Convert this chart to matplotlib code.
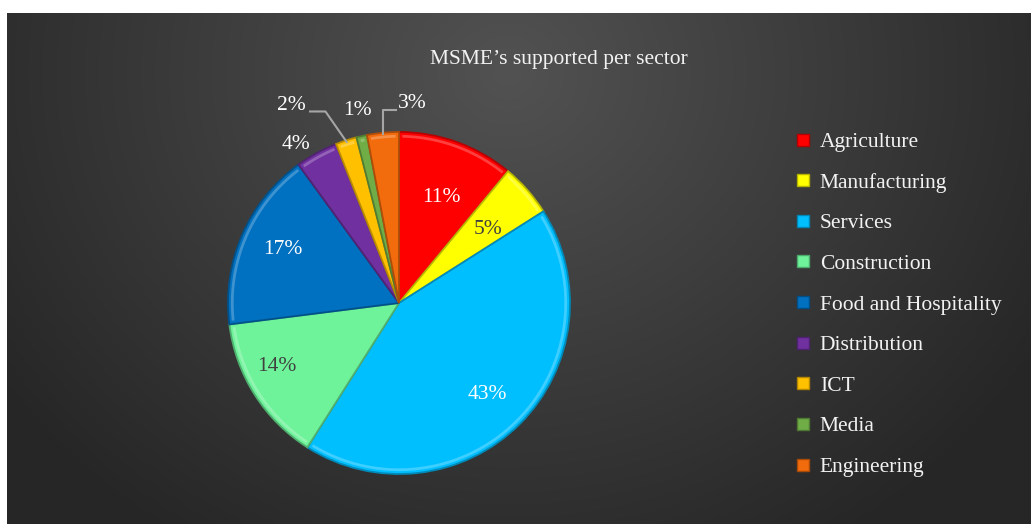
import numpy as np
import matplotlib.pyplot as plt
from matplotlib.lines import Line2D
from matplotlib.colors import to_rgb

plt.rcParams['font.family'] = ['Liberation Serif', 'DejaVu Serif']

sectors = ["Agriculture", "Manufacturing", "Services", "Construction",
           "Food and Hospitality", "Distribution", "ICT", "Media", "Engineering"]
shares = [11, 5, 43, 14, 17, 4, 2, 1, 3]
colors = ["#ff0000", "#ffff00", "#00bfff", "#6ef39a", "#0070c0",
          "#7030a0", "#ffc000", "#70ad47", "#f26b0c"]
label_colors = ["white", "#404040", "white", "#404040", "white",
                "white", "white", "white", "white"]
# inside labels: radius and angle nudge (deg) from slice middle
label_r = [0.678, 0.684, 0.732, 0.798, 0.753]
label_dang = [-1.5, -0.9, -0.3, -5.8, -2.4]
# small slices get their labels outside the pie (axes data coords)
outside_pos = {5: (-0.60, 0.94), 6: (-0.63, 1.17), 7: (-0.24, 1.14), 8: (0.08, 1.18)}
leader = {6, 8}

W, H = 1031, 524
FS = 15.5
fig = plt.figure(figsize=(W / 100, H / 100), dpi=100)
fig.patch.set_facecolor("white")

# dark radial background
bg = fig.add_axes([7 / W, 0, 1 - 7 / W, 1 - 13 / H])
bg.set_axis_off()
yy, xx = np.mgrid[0:511, 0:1024]
d = np.sqrt(((xx - 500) / 1.0) ** 2 + ((yy - 60) / 0.9) ** 2) / 620
d = np.clip(d, 0, 1)
c0, c1 = np.array(to_rgb("#525252")), np.array(to_rgb("#262626"))
img = c0[None, None, :] * (1 - d[..., None]) + c1[None, None, :] * d[..., None]
bg.imshow(img, aspect="auto", extent=[0, 1, 0, 1])

fig.text(559 / W, 1 - 57 / H, "MSME\u2019s supported per sector", ha="center",
         va="center_baseline", color="#f2f2f2", fontsize=FS)

cx, cy, r = 399, 303, 171
ax = fig.add_axes([(cx - r) / W, (H - cy - r) / H, 2 * r / W, 2 * r / H])
wedges, _ = ax.pie(shares, colors=colors, startangle=90, counterclock=False)
for w, c in zip(wedges, colors):
    w.set_edgecolor(tuple(v * 0.72 for v in to_rgb(c)))
    w.set_linewidth(1.3)
# light bevel rim just inside each slice's outer arc
for w, c in zip(wedges, colors):
    t = np.linspace(np.deg2rad(w.theta1) + 0.02, np.deg2rad(w.theta2) - 0.02, 60)
    light = tuple(v + (1 - v) * 0.35 for v in to_rgb(c))
    ax.plot(0.975 * np.cos(t), 0.975 * np.sin(t), color=light, lw=2, alpha=0.7,
            solid_capstyle="butt")
ax.set_xlim(-1, 1)
ax.set_ylim(-1, 1)
ax.set_axis_off()

for i, (w, v) in enumerate(zip(wedges, shares)):
    mid = np.deg2rad((w.theta1 + w.theta2) / 2)
    if i in outside_pos:
        tx, ty = outside_pos[i]
        ax.text(tx, ty, f"{v}%", ha="center", va="center_baseline", color="white",
                fontsize=FS)
        if i in leader:
            ex, ey = 0.99 * np.cos(mid), 0.99 * np.sin(mid)
            if i == 6:
                pts = [(tx + 0.11, ty - 0.05), (tx + 0.2, ty - 0.05), (ex, ey)]
            else:
                pts = [(tx - 0.1, ty - 0.05), (ex, ty - 0.05), (ex, ey)]
            xs, ys = zip(*pts)
            ax.plot(xs, ys, color="#a6a6a6", lw=1.5, clip_on=False)
    else:
        a = mid + np.deg2rad(label_dang[i])
        ax.text(label_r[i] * np.cos(a), label_r[i] * np.sin(a), f"{v}%", ha="center",
                va="center_baseline", color=label_colors[i], fontsize=FS)

handles = [Line2D([], [], marker="s", linestyle="none", markersize=9, markerfacecolor=c,
                  markeredgecolor=tuple(v * 0.7 for v in to_rgb(c))) for c in colors]
fig.legend(handles, sectors, loc="upper left", bbox_to_anchor=(795 / W, 1 - 132 / H),
           frameon=False, fontsize=FS, labelcolor="#f2f2f2", handlelength=0.7,
           handletextpad=0.45, labelspacing=0.955, borderpad=0, borderaxespad=0)

fig.savefig("out.png", dpi=100)
